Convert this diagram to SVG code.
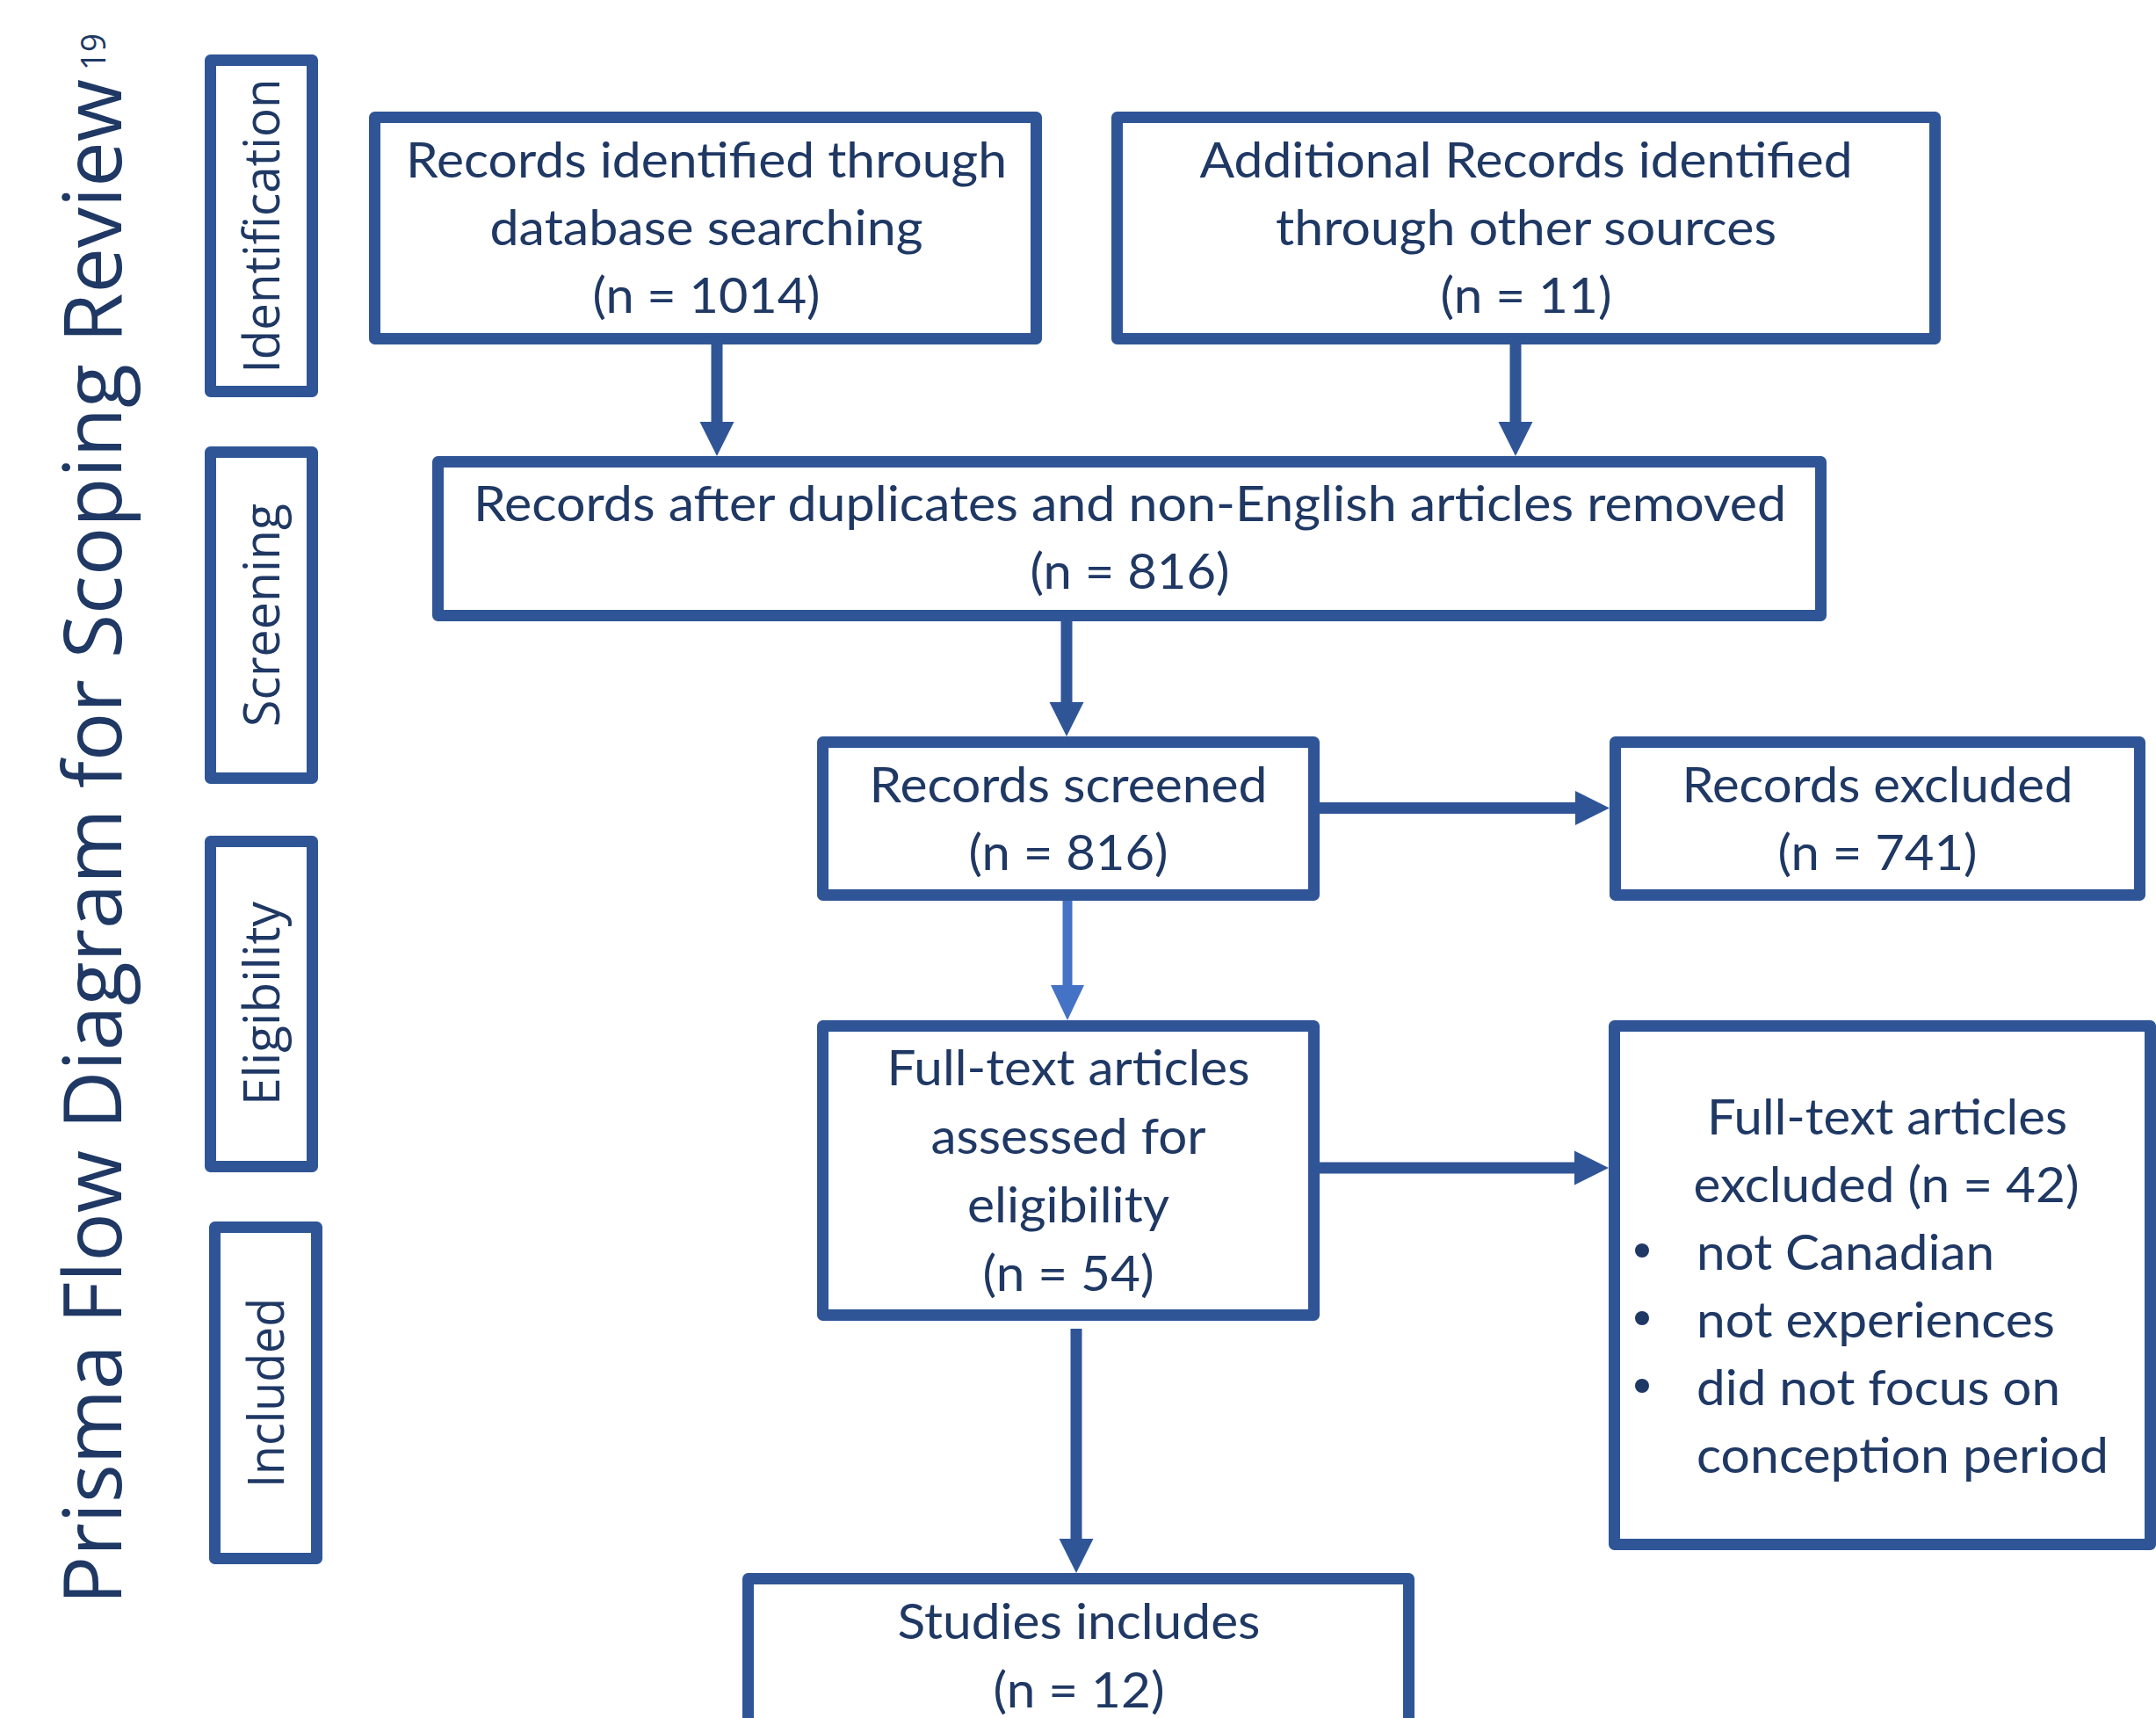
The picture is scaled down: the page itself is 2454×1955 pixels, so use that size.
<svg xmlns="http://www.w3.org/2000/svg" width="2454" height="1955" viewBox="0 0 2454 1955">
<style>
.box{fill:#FFFFFF;stroke:#2F5597;stroke-width:13;stroke-linejoin:round}
.t{font-family:Lato,"Open Sans","Liberation Sans",sans-serif;font-size:57px;fill:#1F3864;text-anchor:middle}
.tl{font-family:Lato,"Open Sans","Liberation Sans",sans-serif;font-size:57px;fill:#1F3864}
.side{font-family:"Open Sans","Noto Sans","Liberation Sans",sans-serif;font-size:57px;fill:#1F3864;text-anchor:middle}
.title{font-family:"Open Sans","Noto Sans","Liberation Sans",sans-serif;font-size:91px;fill:#1F3864}
.sup{font-family:"Open Sans","Noto Sans","Liberation Sans",sans-serif;font-size:39px;fill:#1F3864}
.conn{fill:none;stroke:#2F5597;stroke-width:13}
.connl{fill:none;stroke:#4472C4;stroke-width:11}
</style>
<defs>
<marker id="ah" markerUnits="userSpaceOnUse" markerWidth="40" markerHeight="40" refX="0" refY="19.5" orient="auto" viewBox="0 0 40 39">
<path d="M0,0 L39,19.5 L0,39 Z" fill="#2F5597"/>
</marker>
<marker id="ahl" markerUnits="userSpaceOnUse" markerWidth="40" markerHeight="40" refX="0" refY="19" orient="auto" viewBox="0 0 40 38">
<path d="M0,0 L40,19 L0,38 Z" fill="#4472C4"/>
</marker>
</defs>
<rect width="2454" height="1955" fill="#FFFFFF"/>

<g id="title">
<text class="title" transform="translate(138,1826) rotate(-90)" x="0" y="0" textLength="1736" lengthAdjust="spacingAndGlyphs">Prisma Flow Diagram for Scoping Review</text>
<text class="sup" transform="translate(138,1826) rotate(-90)" x="1746" y="-18" textLength="42" lengthAdjust="spacingAndGlyphs">19</text>
</g>

<g id="stage-identification">
<rect class="box" x="239.5" y="68.5" width="116" height="377"/>
<text class="side" transform="translate(318,257) rotate(-90)" x="0" y="0" textLength="335" lengthAdjust="spacingAndGlyphs">Identification</text>
</g>
<g id="stage-screening">
<rect class="box" x="239.5" y="514.5" width="116" height="371"/>
<text class="side" transform="translate(318,700) rotate(-90)" x="0" y="0" textLength="254" lengthAdjust="spacingAndGlyphs">Screening</text>
</g>
<g id="stage-eligibility">
<rect class="box" x="239.5" y="957.5" width="116" height="370"/>
<text class="side" transform="translate(318,1142) rotate(-90)" x="0" y="0" textLength="232" lengthAdjust="spacingAndGlyphs">Eligibility</text>
</g>
<g id="stage-included">
<rect class="box" x="244.5" y="1396.5" width="116" height="377"/>
<text class="side" transform="translate(323,1585) rotate(-90)" x="0" y="0" textLength="216" lengthAdjust="spacingAndGlyphs">Included</text>
</g>

<g id="connectors">
<path class="conn" d="M816,392 V480" marker-end="url(#ah)"/>
<path class="conn" d="M1725,392 V480" marker-end="url(#ah)"/>
<path class="conn" d="M1214,707 V799" marker-end="url(#ah)"/>
<path class="conn" d="M1500,919.5 H1793" marker-end="url(#ah)"/>
<path class="connl" d="M1215,1025 V1121" marker-end="url(#ahl)"/>
<path class="conn" d="M1500,1329 H1792" marker-end="url(#ah)"/>
<path class="conn" d="M1225,1512 V1751" marker-end="url(#ah)"/>
</g>

<g id="node-database">
<rect class="box" x="426.5" y="133.5" width="753" height="252"/>
<text class="t" x="804" y="202" textLength="684" lengthAdjust="spacingAndGlyphs">Records identified through</text>
<text class="t" x="804" y="279" textLength="493" lengthAdjust="spacingAndGlyphs">database searching</text>
<text class="t" x="804" y="356" textLength="259" lengthAdjust="spacingAndGlyphs">(n = 1014)</text>
</g>

<g id="node-other-sources">
<rect class="box" x="1271.5" y="133.5" width="931" height="252"/>
<text class="t" x="1737" y="202" textLength="743" lengthAdjust="spacingAndGlyphs">Additional Records identified</text>
<text class="t" x="1737" y="279" textLength="570" lengthAdjust="spacingAndGlyphs">through other sources</text>
<text class="t" x="1737" y="356" textLength="195" lengthAdjust="spacingAndGlyphs">(n = 11)</text>
</g>

<g id="node-deduplicated">
<rect class="box" x="498.5" y="525.5" width="1574" height="175"/>
<text class="t" x="1286" y="593" textLength="1494" lengthAdjust="spacingAndGlyphs">Records after duplicates and non-English articles removed</text>
<text class="t" x="1286" y="670" textLength="227" lengthAdjust="spacingAndGlyphs">(n = 816)</text>
</g>

<g id="node-screened">
<rect class="box" x="936.5" y="844.5" width="559" height="174"/>
<text class="t" x="1216" y="913" textLength="453" lengthAdjust="spacingAndGlyphs">Records screened</text>
<text class="t" x="1216" y="990" textLength="227" lengthAdjust="spacingAndGlyphs">(n = 816)</text>
</g>

<g id="node-records-excluded">
<rect class="box" x="1838.5" y="844.5" width="597" height="174"/>
<text class="t" x="2137" y="913" textLength="445" lengthAdjust="spacingAndGlyphs">Records excluded</text>
<text class="t" x="2137" y="990" textLength="227" lengthAdjust="spacingAndGlyphs">(n = 741)</text>
</g>

<g id="node-assessed">
<rect class="box" x="936.5" y="1167.5" width="559" height="329"/>
<text class="t" x="1216" y="1235" textLength="413" lengthAdjust="spacingAndGlyphs">Full-text articles</text>
<text class="t" x="1216" y="1313" textLength="313" lengthAdjust="spacingAndGlyphs">assessed for</text>
<text class="t" x="1216" y="1391" textLength="230" lengthAdjust="spacingAndGlyphs">eligibility</text>
<text class="t" x="1216" y="1469" textLength="195" lengthAdjust="spacingAndGlyphs">(n = 54)</text>
</g>

<g id="node-fulltext-excluded">
<rect class="box" x="1837.5" y="1167.5" width="610" height="590"/>
<text class="t" x="2148" y="1291" textLength="410" lengthAdjust="spacingAndGlyphs">Full-text articles</text>
<text class="t" x="2147" y="1368" textLength="439" lengthAdjust="spacingAndGlyphs">excluded (n = 42)</text>
<circle cx="1869" cy="1423" r="8" fill="#1F3864"/>
<circle cx="1869" cy="1500" r="8" fill="#1F3864"/>
<circle cx="1869" cy="1577" r="8" fill="#1F3864"/>
<text class="tl" x="1931" y="1445" textLength="339" lengthAdjust="spacingAndGlyphs">not Canadian</text>
<text class="tl" x="1931" y="1522" textLength="408" lengthAdjust="spacingAndGlyphs">not experiences</text>
<text class="tl" x="1931" y="1599" textLength="414" lengthAdjust="spacingAndGlyphs">did not focus on</text>
<text class="tl" x="1931" y="1676" textLength="469" lengthAdjust="spacingAndGlyphs">conception period</text>
</g>

<g id="node-included">
<rect class="box" x="851.5" y="1796.5" width="752" height="200"/>
<text class="t" x="1228" y="1865" textLength="413" lengthAdjust="spacingAndGlyphs">Studies includes</text>
<text class="t" x="1228" y="1943" textLength="195" lengthAdjust="spacingAndGlyphs">(n = 12)</text>
</g>
</svg>
